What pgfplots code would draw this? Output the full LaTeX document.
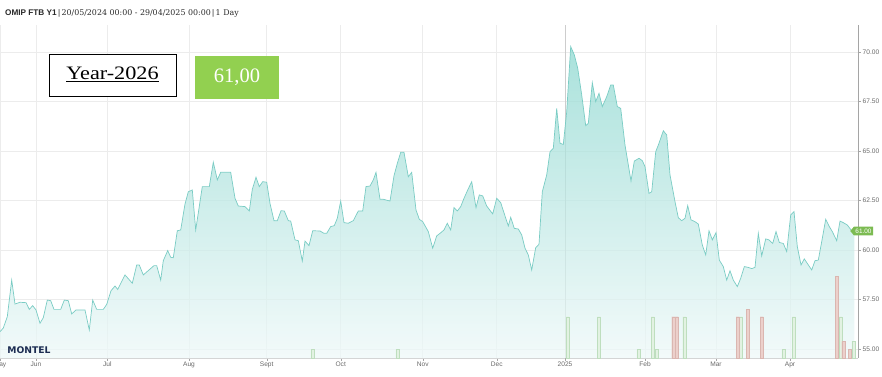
\documentclass[border=0pt]{standalone}
\usepackage{fontspec}
\setmainfont{Liberation Sans}
\newfontfamily\serifL{Liberation Serif}
\newfontfamily\serifD{DejaVu Serif}
\newfontfamily\logofont{DejaVu Sans}
\usepackage{pgfplots}
\pgfplotsset{compat=1.18}
\usepackage{pgfplotstable}
\usetikzlibrary{shapes.symbols}

\definecolor{fillTop}{RGB}{142,216,208}
\definecolor{fillBot}{RGB}{238,248,248}
\definecolor{lineC}{RGB}{122,204,196}
\definecolor{gridC}{RGB}{236,236,236}
\definecolor{gridDark}{RGB}{205,205,205}
\definecolor{tickC}{RGB}{105,105,105}
\definecolor{axisB}{RGB}{210,210,210}
\definecolor{axisR}{RGB}{165,165,165}
\definecolor{barGfill}{RGB}{226,242,226}
\definecolor{barGdraw}{RGB}{190,222,190}
\definecolor{barRfill}{RGB}{236,208,203}
\definecolor{barRdraw}{RGB}{218,182,176}
\definecolor{xlGreen}{RGB}{146,208,80}
\definecolor{tagGreen}{RGB}{124,187,82}
\definecolor{montelBlue}{RGB}{28,44,82}

% price series: x = position along the time axis (trading days, chart units), v = EUR/MWh
\pgfplotstableread{
x v
0 55.87
3.3 56.06
7.3 56.63
11.7 58.48
15 57.27
20 57.36
26 57.34
29.3 57.00
32.7 57.19
36 56.97
40 56.30
43.3 56.58
47.3 57.47
50.7 57.44
54 57.00
60.7 57.00
64.3 57.47
68.3 57.44
71.7 56.77
76 56.97
85 56.97
89.3 55.96
92.7 57.47
96.7 57.00
103.3 57.00
106.7 57.25
111 57.94
115 58.18
117.7 58.01
125 58.74
132.3 58.32
136.7 59.24
139.3 59.24
143.3 58.74
154 59.21
156.7 59.21
160.7 58.48
163.3 59.46
167.7 59.97
170.7 59.63
173.3 59.61
177.3 60.97
180.7 61.01
185 62.32
188.3 62.94
192.3 63.03
195.7 61.01
202.3 63.20
209.3 63.20
213.3 64.43
217.3 63.54
220.7 63.92
230.7 63.92
235 62.61
238.3 62.22
245 62.19
249.3 61.97
252.3 63.06
256 63.67
259.3 63.20
262.7 63.45
266.7 63.42
270 62.35
274 61.48
277.3 61.48
281 61.98
284.3 61.97
288.3 61.48
290.7 61.46
295 60.51
298.3 60.47
302.3 59.44
305 60.45
309 60.22
312.7 60.97
320 60.96
324 60.84
326.7 60.84
330.7 61.18
334.3 61.23
337.3 61.60
340.7 62.47
344 61.38
348.3 61.35
353.3 61.48
358.3 61.97
362.7 61.97
366 63.20
370 63.23
373.3 63.54
376 63.92
380 62.56
383.3 62.56
390 62.47
394 63.75
397.3 64.37
400.7 64.93
404 64.93
408.3 63.70
411.7 63.92
416 62.02
419.3 61.55
422.7 61.43
428.3 60.93
432.7 60.09
436.7 60.71
440 60.84
444 61.01
447.3 61.35
450.7 61.01
454 62.14
457.3 61.97
460.7 62.19
464 62.61
467.7 63.03
471.7 63.45
476 62.14
479.3 62.78
482.7 62.73
486.7 62.22
492.7 61.82
496.7 62.61
500.7 62.39
505 61.72
508.3 61.21
510.7 61.65
514.3 61.09
518.3 61.06
521.7 60.76
525 60.09
528.3 59.75
531.7 58.99
535.7 60.12
539 60.29
542.3 62.94
546.7 63.79
550 64.96
553.3 65.13
556.7 67.15
560 65.39
563.3 65.33
566.7 66.98
570.7 70.27
574.3 69.85
577.7 69.18
581.7 67.83
585.7 66.28
588.3 66.39
592.3 68.45
595.7 67.49
599 67.91
602.3 67.24
606.7 67.74
610.7 68.33
613.3 68.33
617.3 67.24
620.7 67.15
625 65.30
631 63.48
634.3 64.49
639 64.63
642.3 64.51
645 64.21
649 62.86
651.7 62.94
655.7 64.96
659 65.39
663.3 66.02
666.7 65.81
670 63.79
675 62.44
678.3 61.63
681.7 61.48
685 61.60
687.7 62.24
691 61.52
695 61.43
698.3 61.31
702.3 60.25
705.7 59.75
709 60.97
712.3 60.51
716 60.88
719.3 59.49
723.3 59.16
726.7 58.48
730 58.95
733.3 58.48
737.3 58.15
740.7 58.57
744.3 59.16
748.3 59.12
751.7 59.06
755 59.12
758.3 60.84
761.7 59.70
765.7 60.56
769 60.51
772.7 60.33
776 60.93
779.3 60.38
783.3 60.33
786.7 59.92
790.7 61.77
794 61.94
797.3 60.17
801 59.24
804.3 59.55
807.7 59.29
811.7 58.99
815 59.46
818.3 59.49
821.7 60.42
825.7 61.55
829 61.21
832.3 60.93
836.7 60.47
840 61.46
843.3 61.38
847.3 61.26
851.7 60.97
854.3 60.96
}\pricedata

% volume bars (green)
\pgfplotstableread{
x h
312.5 8.7
397.5 8.7
567.5 41.3
599 41.3
638.5 8.7
652.8 41.3
656.3 8.7
684.3 41.3
741 41.3
783.5 8.7
794 41.3
840.5 41.3
853.5 17
}\volgreen

% volume bars (red)
\pgfplotstableread{
x h
673.3 41.3
676.7 41.3
737.7 41.3
748 49
761.7 41.3
836.8 82
843.3 16.5
850 8.7
}\volred

\begin{document}
\begin{tikzpicture}
\useasboundingbox (0pt,-18pt) rectangle (882pt,358pt);
\begin{axis}[
  at={(0pt,0pt)}, anchor=south west,
  scale only axis, width=858pt, height=333pt,
  xmin=0, xmax=858, ymin=54.545, ymax=71.36,
  axis x line*=bottom, axis y line*=right,
  x axis line style={-, draw=axisB, line width=0.6pt},
  y axis line style={-, draw=axisR, line width=0.6pt},
  xtick={0,36,107.3,189,266.7,340.7,422.7,496.7,645,716,790},
  xticklabels={May,Jun,Jul,Aug,Sept,Oct,Nov,Dec,Feb,Mar,Apr},
  extra x ticks={565},
  extra x tick labels={2025},
  extra x tick style={major grid style={draw=gridDark, line width=0.5pt}},
  ytick={55,57.5,60,62.5,65,67.5,70},
  tick align=outside, major tick length=2.5pt,
  tick style={draw=axisR, line width=0.4pt},
  grid=major,
  major grid style={draw=gridC, line width=0.5pt},
  ticklabel style={font=\fontsize{6.6}{7}\selectfont, text=tickC},
  xticklabel style={inner sep=1.5pt},
  yticklabel style={inner sep=2pt, /pgf/number format/.cd, fixed, fixed zerofill, precision=2, assume math mode=true},
  no markers,
]
\addplot[draw=none, top color=fillTop, bottom color=fillBot, fill opacity=0.75] table[x=x,y=v]{\pricedata} \closedcycle;
\addplot[lineC, line width=0.7pt] table[x=x,y=v]{\pricedata};
\end{axis}
\begin{axis}[
  at={(0pt,0pt)}, anchor=south west,
  scale only axis, width=858pt, height=333pt,
  xmin=0, xmax=858, ymin=0, ymax=333,
  hide axis,
  ybar, bar width=3.2pt, bar shift=0pt,
]
\addplot[fill=barGfill, draw=barGdraw, line width=0.4pt] table[x=x,y=h]{\volgreen};
\addplot[fill=barRfill, draw=barRdraw, line width=0.4pt] table[x=x,y=h]{\volred};
\end{axis}
% header
\node[anchor=west, inner sep=0pt, text={rgb,255:red,40;green,40;blue,40}] at (5pt,345pt)
  {\fontsize{8.2}{9}\selectfont\bfseries OMIP FTB Y1\mdseries\,|\,{\serifD\fontsize{7.9}{9}\selectfont 20/05/2024 00:00 - 29/04/2025 00:00}\,|\,{\serifD\fontsize{7.9}{9}\selectfont 1 Day}};
% Year box
\draw[fill=white, line width=0.8pt] (49.3pt,303.7pt) rectangle (176.7pt,261.3pt);
\node[inner sep=0pt] at (112.5pt,284pt) {\serifL\fontsize{19}{20}\selectfont\scalebox{1.17}[1]{\underline{Year-2026}}};
% value box
\fill[xlGreen] (195pt,302.3pt) rectangle (279pt,259pt);
\node[inner sep=0pt, text=white] at (237pt,280.5pt) {\serifL\fontsize{20.5}{22}\selectfont 61,00};
% last value tag
\node[signal, signal to=west, signal pointer angle=100, fill=tagGreen, text=white, inner xsep=1.6pt, inner ysep=2pt, anchor=west,
      font=\fontsize{6.4}{7}\selectfont] at (850pt,127pt) {61.00};
% logo
\node[inner sep=0pt, text=montelBlue] at (29pt,7.5pt) {\logofont\bfseries\fontsize{9.2}{10}\selectfont MONTEL};
\end{tikzpicture}
\end{document}
